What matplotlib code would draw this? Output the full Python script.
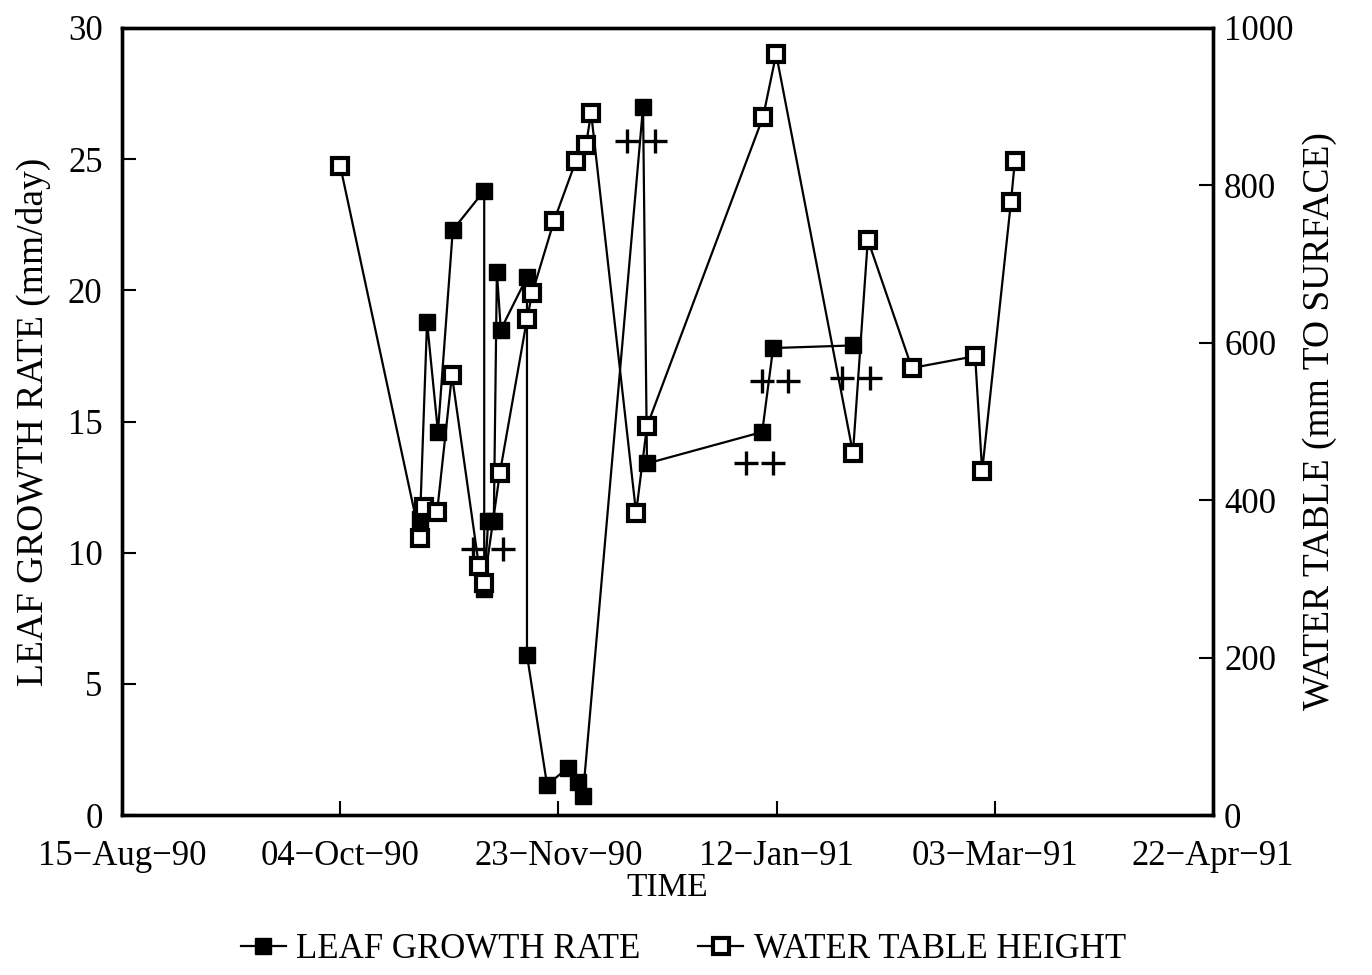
import datetime as dt
import matplotlib
matplotlib.use("Agg")
import matplotlib.pyplot as plt

plt.rcParams['font.family'] = ['Liberation Serif', 'DejaVu Serif']

# ---- data (x as days after 15-Aug-90) ----
origin = dt.datetime(1990, 8, 15)

leaf_days = [68.3, 69.9, 72.4, 75.8, 83.0, 83.0, 83.9, 85.2, 85.9, 86.8,
             92.8, 92.8, 97.4, 102.2, 104.5, 105.6, 119.4, 120.3, 146.7,
             149.2, 167.5]
leaf_rate = [11.3, 18.8, 14.6, 22.3, 23.8, 8.6, 11.2, 11.2, 20.7, 18.5,
             20.5, 6.1, 1.15, 1.8, 1.25, 0.72, 27.0, 13.4, 14.6, 17.8, 17.9]

water_days = [50.0, 68.3, 69.2, 72.2, 75.6, 81.8, 83.0, 86.6, 92.8, 94.0,
              99.0, 104.0, 106.3, 107.5, 117.8, 120.3, 146.9, 149.9, 167.5,
              170.9, 181.0, 195.5, 197.1, 203.7, 204.6]
water_height = [825, 352, 391, 385, 559, 316, 295, 435, 630, 663,
                755, 831, 851, 892, 384, 494, 887, 967, 460,
                731, 568, 583, 437, 779, 831]

plus_days = [80.4, 87.3, 115.7, 122.1, 143.0, 149.2, 146.7, 152.6, 165.0, 171.4]
plus_rate = [10.15, 10.15, 25.7, 25.7, 13.4, 13.4, 16.55, 16.55, 16.65, 16.65]

tick_days = [0, 50, 100, 150, 200, 250]
tick_labels = ["15\u2212Aug\u221290", "04\u2212Oct\u221290", "23\u2212Nov\u221290",
               "12\u2212Jan\u221291", "03\u2212Mar\u221291", "22\u2212Apr\u221291"]
left_ticks = [0, 5, 10, 15, 20, 25, 30]
right_ticks = [0, 200, 400, 600, 800, 1000]


def to_dates(days):
    return [origin + dt.timedelta(days=d) for d in days]


fig = plt.figure(figsize=(13.72, 9.75), dpi=100)
ax = fig.add_axes([122 / 1372, 1 - 815 / 975, (1213 - 122) / 1372, (815 - 28) / 975])
ax2 = ax.twinx()

fs = 25
l1, = ax.plot(to_dates(leaf_days), leaf_rate, color='black', lw=1.6,
              marker='s', markersize=11, markerfacecolor='black',
              markeredgecolor='black', label='LEAF GROWTH RATE', zorder=3)
ax.plot(to_dates(plus_days), plus_rate, linestyle='none', marker='+',
        markersize=17, markeredgewidth=2.4, color='black', zorder=3)
l2, = ax2.plot(to_dates(water_days), water_height, color='black', lw=1.6,
               marker='s', markersize=11.5, markerfacecolor='white',
               markeredgecolor='black', markeredgewidth=3.0,
               label='WATER TABLE HEIGHT', zorder=3)

ax.set_xlim(origin, origin + dt.timedelta(days=250))
ax.set_xticks(to_dates(tick_days))
ax.set_xticklabels(tick_labels)
ax.set_ylim(0, 30)
ax.set_yticks(left_ticks)
ax2.set_ylim(0, 1000)
ax2.set_yticks(right_ticks)

for a in (ax, ax2):
    for s in a.spines.values():
        s.set_linewidth(2.4)
ax.tick_params(axis='x', direction='in', length=10, width=1.5,
               labelsize=fs, pad=18)
ax.tick_params(axis='y', direction='in', length=10, width=1.5,
               labelsize=fs, pad=14)
ax2.tick_params(axis='y', direction='in', length=10, width=1.5,
                labelsize=fs, pad=8)

ax.set_xlabel('TIME', fontsize=24, labelpad=0)
ax.set_ylabel('LEAF GROWTH RATE (mm/day)', fontsize=27, labelpad=12)
ax2.set_ylabel('WATER TABLE (mm TO SURFACE)', fontsize=27, labelpad=6)

fig.legend(handles=[l1, l2], loc='center', bbox_to_anchor=(0.498, 1 - 950 / 975),
           ncol=2, frameon=False, fontsize=fs, handlelength=1.3,
           columnspacing=1.65, handletextpad=0.3)

fig.savefig('out.png', dpi=100)
